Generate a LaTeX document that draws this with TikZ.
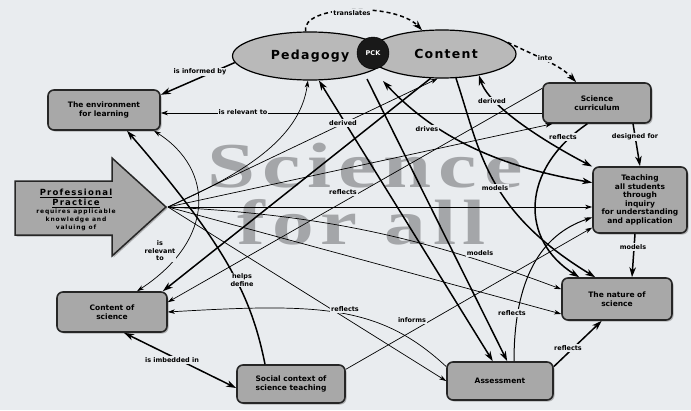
\documentclass[tikz,border=0pt]{standalone}
\usepackage{fontspec}
\setmainfont{DejaVu Sans}
\newfontfamily\ellfont[LetterSpace=10]{DejaVu Sans}
\newfontfamily\ppfont[LetterSpace=14]{DejaVu Sans}
\newfontfamily\wmfont[LetterSpace=8]{Liberation Serif}
\usetikzlibrary{arrows.meta,shapes.geometric,calc,shadows}
\definecolor{bg}{HTML}{E9ECEF}
\definecolor{boxfill}{HTML}{A8A8A8}
\definecolor{wm}{HTML}{A4A6A9}
\begin{document}
\begin{tikzpicture}[x=1pt,y=-1pt,
  box/.style={draw=black!85, line width=1.6pt, fill=boxfill, rounded corners=6pt, align=center,
    font=\fontsize{7.5}{9}\selectfont\bfseries, inner sep=2pt,
    drop shadow={shadow xshift=1.5pt,shadow yshift=-1.5pt,opacity=.55}},
  ell/.style={ellipse, draw=black, line width=1.2pt, fill=gray!55, inner sep=0pt,
    font=\ellfont\fontsize{12.5}{13}\selectfont\bfseries},
  lab/.style={fill=bg, inner sep=1pt, font=\fontsize{6.5}{7.5}\selectfont\bfseries, align=center},
  wmk/.style={text=wm, inner sep=0pt, font=\wmfont\fontsize{64}{64}\selectfont\bfseries},
  thk/.style={line width=1.5pt, -{Stealth[length=10pt,width=6.5pt,inset=3pt]}},
  thkb/.style={line width=1.5pt, {Stealth[length=10pt,width=6.5pt,inset=3pt]}-{Stealth[length=10pt,width=6.5pt,inset=3pt]}},
  thn/.style={line width=0.7pt, -{Stealth[length=7pt,width=4.5pt,inset=2pt]}},
  thnb/.style={line width=0.7pt, {Stealth[length=7pt,width=4.5pt,inset=2pt]}-{Stealth[length=7pt,width=4.5pt,inset=2pt]}},
  dsh/.style={dash pattern=on 4pt off 3pt}
]
\useasboundingbox (0,0) rectangle (691,410);
\fill[bg] (0,0) rectangle (691,410);

% watermark
\node[wmk] (wm1) at (365,166) {\scalebox{1.35}[1]{Science}};
\node[wmk] (wm2) at (362,222) {\scalebox{1.3}[1]{for all}};

% nodes
\node[ell, minimum width=155pt, minimum height=48pt] (ped) at (310,56) {Pedagogy};
\node[ell, minimum width=148pt, minimum height=48pt] (con) at (442,54) {\hspace*{8pt}Content};
\node[circle, fill=black!90, draw=black, text=white, minimum size=32pt, inner sep=0pt,
  font=\fontsize{6.5}{7}\selectfont\bfseries] (pck) at (373,53) {PCK};

\node[box, minimum width=112pt, minimum height=40pt] (env) at (104,110) {The environment\\for learning};
\node[box, minimum width=108pt, minimum height=40pt] (cur) at (597,103) {Science\\curriculum};
\node[box, minimum width=94pt, minimum height=66pt, font=\fontsize{7.5}{8.6}\selectfont\bfseries] (tea) at (640,200)
  {Teaching\\all students\\through\\inquiry\\for understanding\\and application};
\node[box, minimum width=110pt, minimum height=42pt] (nat) at (617,299) {The nature of\\science};
\node[box, minimum width=106pt, minimum height=38pt] (ass) at (500,381) {Assessment};
\node[box, minimum width=108pt, minimum height=38pt] (soc) at (291,384) {Social context of\\science teaching};
\node[box, minimum width=110pt, minimum height=40pt] (cos) at (112,312) {Content of\\science};

% professional practice arrow
\path[draw=black!85, line width=1.5pt, fill=boxfill, drop shadow={shadow xshift=1.5pt,shadow yshift=-1.5pt,opacity=.55}]
  (15,181) -- (112,181) -- (112,158) -- (166,207) -- (112,256) -- (112,235) -- (15,235) -- cycle;
\node[align=center, inner sep=0pt, font=\ppfont\fontsize{6}{8}\selectfont\bfseries] (pp) at (76,210)
  {{\fontsize{8.5}{10}\selectfont\underline{Professional}}\\{\fontsize{8.5}{10}\selectfont\underline{Practice}}\\requires applicable\\knowledge and\\valuing of};
\coordinate (ppt) at (168,207);
\coordinate (d1) at (383,81);
\coordinate (d2) at (367,79);

% connectors
\draw[thk, dsh] (ped.100) .. controls (300,5) and (395,2) .. (con.130);
\draw[thk, dsh] (con.10) .. controls (540,58) and (560,65) .. (cur.135);
\draw[thk] (ped.185) -- (env.15);
\draw[thn] ($(cur.west)+(0,10)$) -- ($(env.east)+(0,3)$);
\draw[thkb] (ped.-70) -- (ass.110);
\draw[thk] (d2) -- (ass.70);
\draw[thkb] (tea.160) .. controls (520,170) and (445,148) .. (d1);
\draw[thkb] (tea.145) .. controls (560,150) and (490,110) .. (con.-30);
\draw[thk] (cur.-30) -- (tea.north);
\draw[thk] (cur.-115) .. controls (520,170) and (520,240) .. (nat.150);
\draw[thk] (con.-60) .. controls (480,150) and (485,210) .. (nat.135);
\draw[thk] ($(tea.south)+(-5,0)$) -- ($(nat.north)+(15,0)$);
\draw[thk] (ass.15) -- (nat.-125);
\draw[line width=1pt, -{Stealth[length=8pt,width=5pt,inset=2pt]}] ($(ass.north)+(14,0)$) .. controls (514,280) and (540,235) .. (tea.-160);
\draw[thn] (soc.15) -- (tea.-150);
\draw[thn] (ass.165) .. controls (380,305) and (320,303) .. (cos.east);
\draw[thkb] (cos.-60) -- ($(soc.west)+(0,4)$);
\draw[thk] ($(soc.north)+(-26,0)$) .. controls (252,300) and (230,250) .. ($(env.south)+(23,0)$);
\draw[thnb] ($(env.south)+(50,0)$) .. controls (215,170) and (215,240) .. ($(cos.north)+(25,0)$);
\draw[thk] (con.-115) -- ($(cos.north east)+(-5,0)$);
\draw[thn] (cur.165) -- (cos.10);
\draw[thn] (ppt) .. controls (240,175) and (300,140) .. (ped.-95);
\draw[thn] (ppt) -- (con.-100);
\draw[thn] (ppt) -- (cur.205);
\draw[thn] (ppt) -- (ppt -| tea.west);
\draw[thn] (ppt) .. controls (330,215) and (430,240) .. (nat.170);
\draw[thn] (ppt) -- (nat.-165);
\draw[thn] (ppt) -- (ass.west);

% labels
\node[lab] (l1) at (352,13) {translates};
\node[lab] (l2) at (545,58) {into};
\node[lab] (l3) at (200,72) {is informed by};
\node[lab] (l4) at (243,112) {is relevant to};
\node[lab] (l5) at (343,123) {derived};
\node[lab] (l6) at (492,101) {derived};
\node[lab] (l7) at (427,129) {drives};
\node[lab] (l8) at (563,137) {reflects};
\node[lab] (l9) at (635,137) {designed for};
\node[lab] (l10) at (343,192) {reflects};
\node[lab] (l11) at (495,188) {models};
\node[lab] (l12) at (480,253) {models};
\node[lab] (l13) at (633,247) {models};
\node[lab] (l14) at (160,251) {is\\relevant\\to};
\node[lab] (l15) at (242,280) {helps\\define};
\node[lab] (l16) at (345,309) {reflects};
\node[lab] (l17) at (412,320) {informs};
\node[lab] (l18) at (512,313) {reflects};
\node[lab] (l19) at (568,348) {reflects};
\node[lab] (l20) at (172,360) {is imbedded in};
\end{tikzpicture}
\end{document}
